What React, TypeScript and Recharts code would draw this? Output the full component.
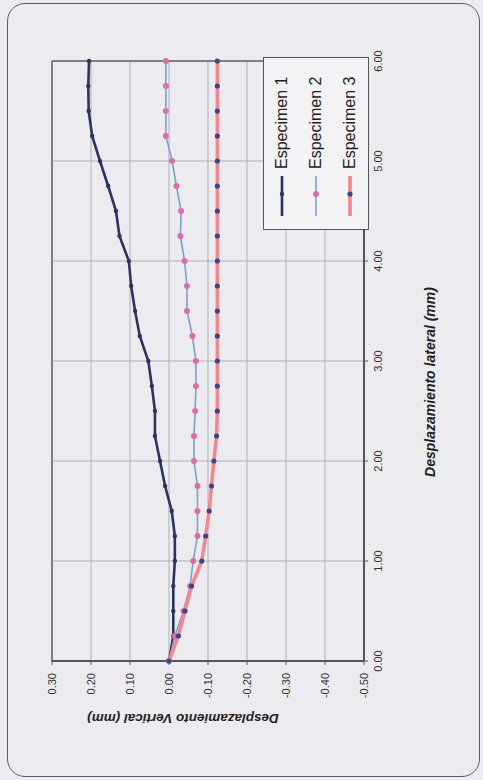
import React from 'react';
import {
  LineChart,
  Line,
  XAxis,
  YAxis,
  CartesianGrid,
  ReferenceLine,
  Legend,
  Label,
} from 'recharts';

// Lateral displacement (mm) at each reading
const lateralMm = [
  0.0, 0.25, 0.5, 0.75, 1.0, 1.25, 1.5, 1.75, 2.0, 2.25, 2.5, 2.75, 3.0,
  3.25, 3.5, 3.75, 4.0, 4.25, 4.5, 4.75, 5.0, 5.25, 5.5, 5.75, 6.0,
];

// Vertical displacement (mm) per specimen
const especimen1 = [
  0.0, -0.011, -0.011, -0.011, -0.015, -0.015, -0.007, 0.01, 0.023, 0.036,
  0.036, 0.044, 0.053, 0.075, 0.087, 0.097, 0.103, 0.127, 0.136, 0.156,
  0.177, 0.197, 0.206, 0.207, 0.205,
];
const especimen2 = [
  0.0, -0.015, -0.037, -0.054, -0.062, -0.073, -0.073, -0.073, -0.064,
  -0.064, -0.067, -0.069, -0.069, -0.06, -0.046, -0.046, -0.04, -0.029,
  -0.031, -0.019, -0.008, 0.008, 0.008, 0.008, 0.008,
];
const especimen3 = [
  0.0, -0.024, -0.041, -0.058, -0.084, -0.094, -0.103, -0.109, -0.115,
  -0.122, -0.124, -0.124, -0.124, -0.124, -0.124, -0.124, -0.124, -0.124,
  -0.124, -0.124, -0.124, -0.124, -0.124, -0.124, -0.124,
];

const lateralTicks = [0, 1, 2, 3, 4, 5, 6];
const verticalTicks = [0.3, 0.2, 0.1, 0, -0.1, -0.2, -0.3, -0.4, -0.5];

const seriesInfo = [
  { key: 'e1', name: 'Especimen 1', line: '#2c3360', width: 2.6, dot: '#2c3360', r: 2.2 },
  { key: 'e2', name: 'Especimen 2', line: '#7f9fcf', width: 1.6, dot: '#d9719f', r: 3 },
  { key: 'e3', name: 'Especimen 3', line: '#f2878d', width: 3.6, dot: '#3d4682', r: 2.6 },
];

const data = lateralMm.map((x, i) => ({
  x,
  e1: especimen1[i],
  e2: especimen2[i],
  e3: especimen3[i],
}));

const FONT = '"Liberation Sans", Arial, sans-serif';
const CHART_W = 780;
const CHART_H = 483;

const tickStyle = { fill: '#333', fontSize: 11, fontFamily: FONT };

const LegendBox = () => (
  <div
    style={{
      position: 'relative',
      width: 173,
      height: 106,
      border: '1px solid #555',
      background: '#f3f3f6',
      boxSizing: 'border-box',
      fontFamily: FONT,
      fontSize: 16,
      color: '#222',
    }}
  >
    {seriesInfo.map((s, i) => (
      <div
        key={s.key}
        style={{
          position: 'absolute',
          left: 12,
          top: 18 + i * 34 - 10,
          height: 20,
          display: 'flex',
          alignItems: 'center',
          whiteSpace: 'nowrap',
        }}
      >
        <svg width={44} height={12} style={{ marginRight: 4 }}>
          <line x1={1} y1={6} x2={41} y2={6} stroke={s.line} strokeWidth={s.width} />
          <circle cx={23} cy={6} r={s.r} fill={s.dot} />
        </svg>
        <span>{s.name}</span>
      </div>
    ))}
  </div>
);

const XTitle = (props: any) => {
  const vb = props.viewBox || { x: 119, y: 364, width: 600 };
  return (
    <text
      x={vb.x + vb.width / 2 - 21}
      y={vb.y + 66}
      textAnchor="middle"
      dominantBaseline="central"
      fontFamily={FONT}
      fontSize={14}
      fontWeight="bold"
      fontStyle="italic"
      fill="#222"
    >
      Desplazamiento lateral (mm)
    </text>
  );
};

const YTitle = (props: any) => {
  const vb = props.viewBox || { x: 0, y: 52, height: 312 };
  const cx = vb.x + 62;
  const cy = vb.y + vb.height / 2 - 25;
  return (
    <text
      x={cx}
      y={cy}
      transform={`rotate(-90, ${cx}, ${cy})`}
      textAnchor="middle"
      dominantBaseline="central"
      fontFamily={FONT}
      fontSize={13.5}
      fontWeight="bold"
      fontStyle="italic"
      fill="#222"
    >
      Desplazamiento Vertical (mm)
    </text>
  );
};

export default function App() {
  return (
    <div
      style={{
        position: 'absolute',
        left: 0,
        top: 0,
        width: 483,
        height: 780,
        background: '#ecebf0',
        overflow: 'hidden',
      }}
    >
      <div
        style={{
          position: 'absolute',
          left: 7,
          top: 3,
          width: 473,
          height: 774,
          border: '1.5px solid #5d5d62',
          borderRadius: 18,
          boxSizing: 'border-box',
        }}
      />
      <div
        style={{
          position: 'absolute',
          left: 0,
          top: 0,
          width: CHART_W,
          height: CHART_H,
          transformOrigin: '0 0',
          transform: `translate(0px, ${CHART_W}px) rotate(-90deg)`,
        }}
      >
        <LineChart
          width={CHART_W}
          height={CHART_H}
          data={data}
          margin={{ top: 52, right: 61, left: 0, bottom: 0 }}
        >
          <CartesianGrid stroke="#b0b0b5" strokeWidth={1} />
          <XAxis
            type="number"
            dataKey="x"
            domain={[0, 6]}
            ticks={lateralTicks}
            tickFormatter={(v: number) => v.toFixed(2)}
            height={119}
            tickSize={4}
            tickMargin={6}
            tick={tickStyle}
            axisLine={{ stroke: '#555', strokeWidth: 2 }}
            tickLine={{ stroke: '#555' }}
          >
            <Label content={<XTitle />} />
          </XAxis>
          <YAxis
            type="number"
            domain={[-0.5, 0.3]}
            ticks={verticalTicks}
            tickFormatter={(v: number) => v.toFixed(2)}
            width={119}
            tickSize={4}
            tickMargin={8}
            tick={tickStyle}
            axisLine={{ stroke: '#555', strokeWidth: 2 }}
            tickLine={{ stroke: '#555' }}
          >
            <Label content={<YTitle />} />
          </YAxis>
          <ReferenceLine y={0.3} stroke="#666" strokeWidth={1.5} />
          <ReferenceLine x={6} stroke="#666" strokeWidth={1.5} />
          {seriesInfo.map((s) => (
            <Line
              key={s.key}
              type="linear"
              dataKey={s.key}
              name={s.name}
              stroke={s.line}
              strokeWidth={s.width}
              dot={{ r: s.r, fill: s.dot, stroke: 'none' }}
              activeDot={false}
              isAnimationActive={false}
            />
          ))}
          <Legend
            layout="horizontal"
            verticalAlign="middle"
            align="center"
            content={<LegendBox />}
            wrapperStyle={{ position: 'absolute', left: 550, top: 263, width: 173, height: 106 }}
          />
        </LineChart>
      </div>
    </div>
  );
}
